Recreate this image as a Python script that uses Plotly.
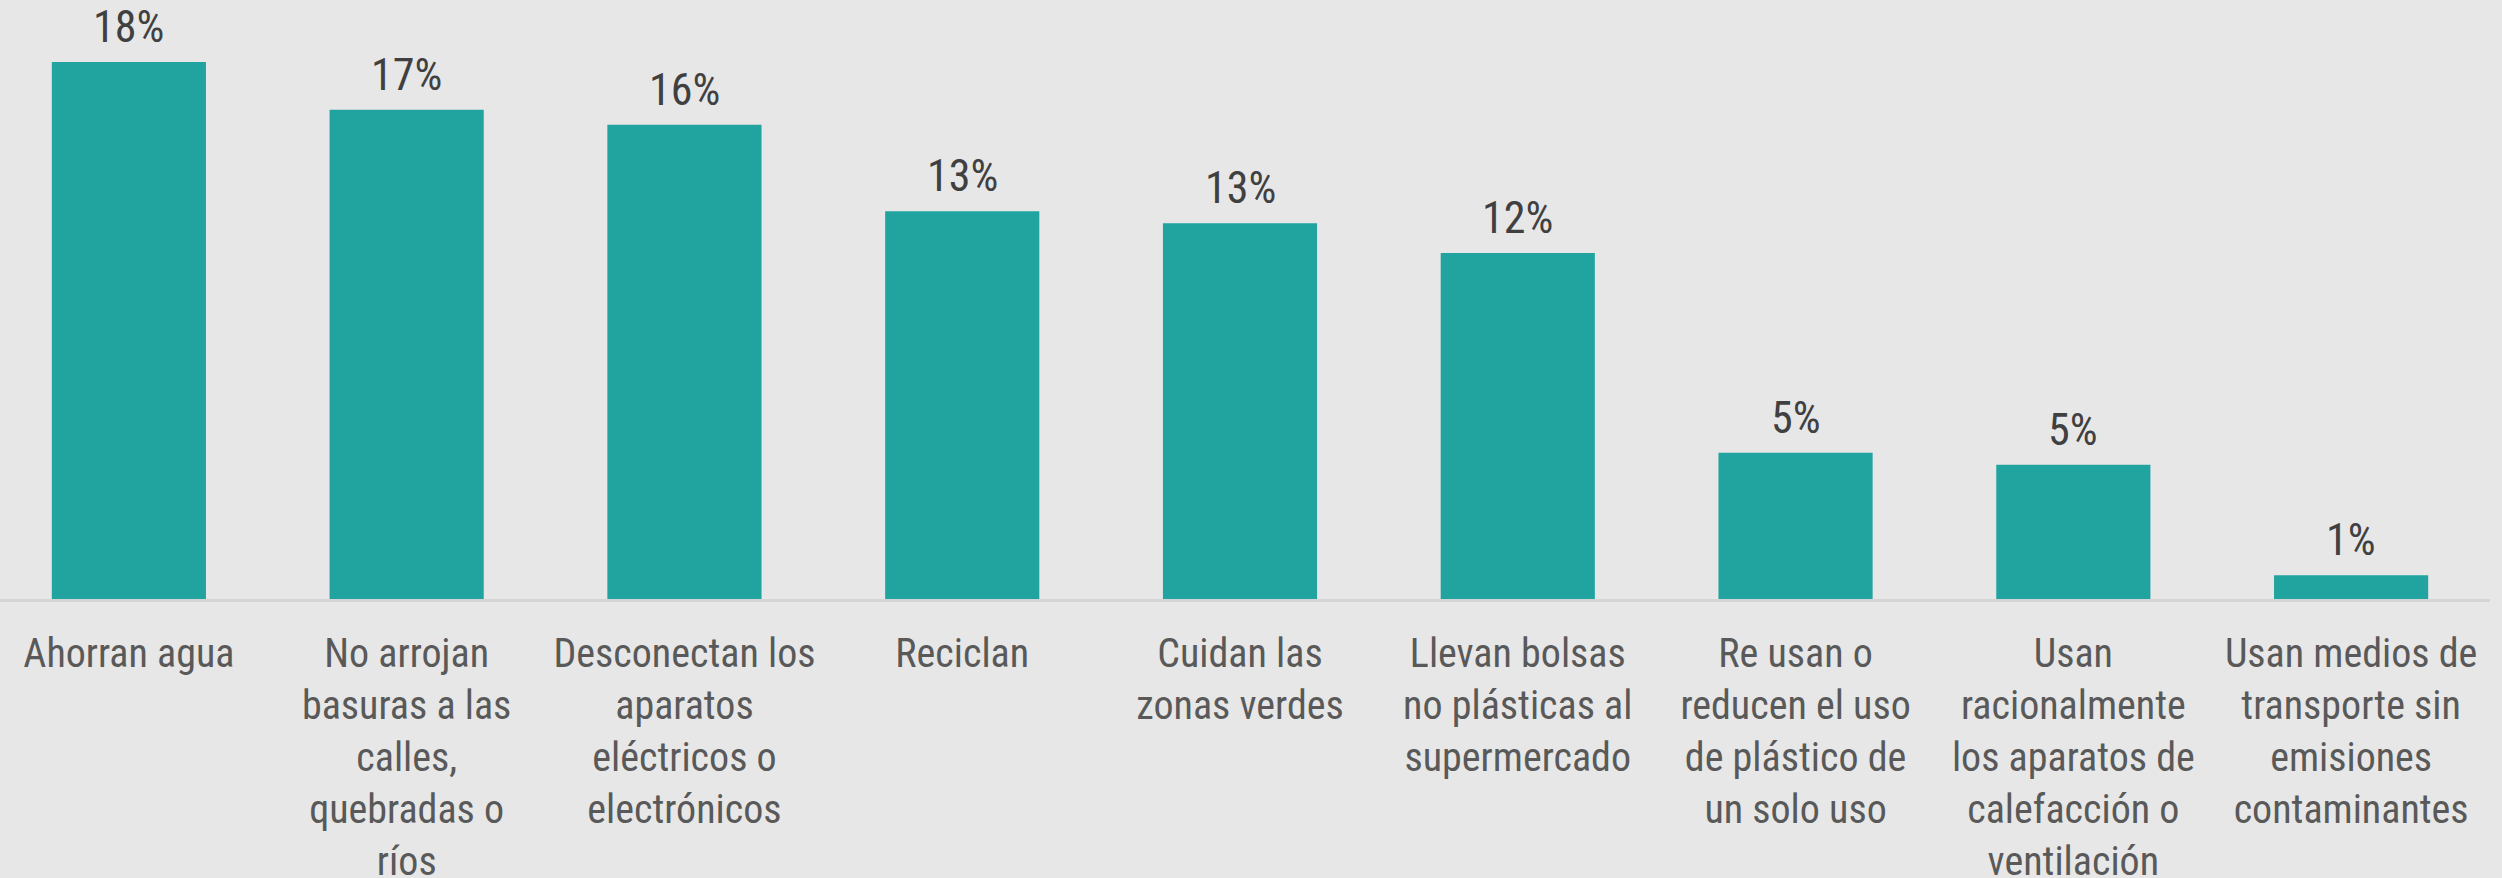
import plotly.graph_objects as go

categories = [
    "Ahorran agua",
    "No arrojan<br>basuras a las<br>calles,<br>quebradas o<br>ríos",
    "Desconectan los<br>aparatos<br>eléctricos o<br>electrónicos",
    "Reciclan",
    "Cuidan las<br>zonas verdes",
    "Llevan bolsas<br>no plásticas al<br>supermercado",
    "Re usan o<br>reducen el uso<br>de plástico de<br>un solo uso",
    "Usan<br>racionalmente<br>los aparatos de<br>calefacción o<br>ventilación",
    "Usan medios de<br>transporte sin<br>emisiones<br>contaminantes",
]
values = [18.0, 16.4, 15.9, 13.0, 12.6, 11.6, 4.9, 4.5, 0.8]
value_labels = ["18%", "17%", "16%", "13%", "13%", "12%", "5%", "5%", "1%"]

FONT = "Liberation Sans Narrow, Roboto Condensed, Roboto, sans-serif"
BG = "#e7e7e7"
BAR = "#21a49f"

x_idx = list(range(len(categories)))

fig = go.Figure()
fig.add_trace(go.Bar(
    x=x_idx,
    y=values,
    width=0.555,
    marker=dict(color=BAR, line=dict(width=0)),
    hoverinfo="skip",
))

for xi, v, lab in zip(x_idx, values, value_labels):
    fig.add_annotation(
        x=xi, y=v, text=lab, showarrow=False,
        xref="x", yref="y", yanchor="bottom", yshift=7,
        font=dict(family=FONT, size=44, color="#404040"),
    )

fig.update_layout(
    width=2502, height=878,
    margin=dict(l=0, r=12, t=0, b=279),
    paper_bgcolor=BG, plot_bgcolor=BG,
    showlegend=False,
    font=dict(family=FONT),
)
fig.update_xaxes(
    range=[-0.464, 8.50],
    automargin=False,
    tickmode="array", tickvals=x_idx, ticktext=categories,
    tickfont=dict(family=FONT, size=40, color="#595959"),
    ticks="outside", ticklen=17, tickcolor="rgba(0,0,0,0)",
    showline=True, linecolor="#d5d5d5", linewidth=3,
    showgrid=False, zeroline=False, tickangle=0,
)
fig.update_yaxes(
    range=[0, 20.08], visible=False, showgrid=False, zeroline=False,
    automargin=False,
)

fig.write_html(
    "out.html",
    config={"displayModeBar": False},
    post_script="document.body.style.margin='0';document.body.style.background='#e7e7e7';",
)
